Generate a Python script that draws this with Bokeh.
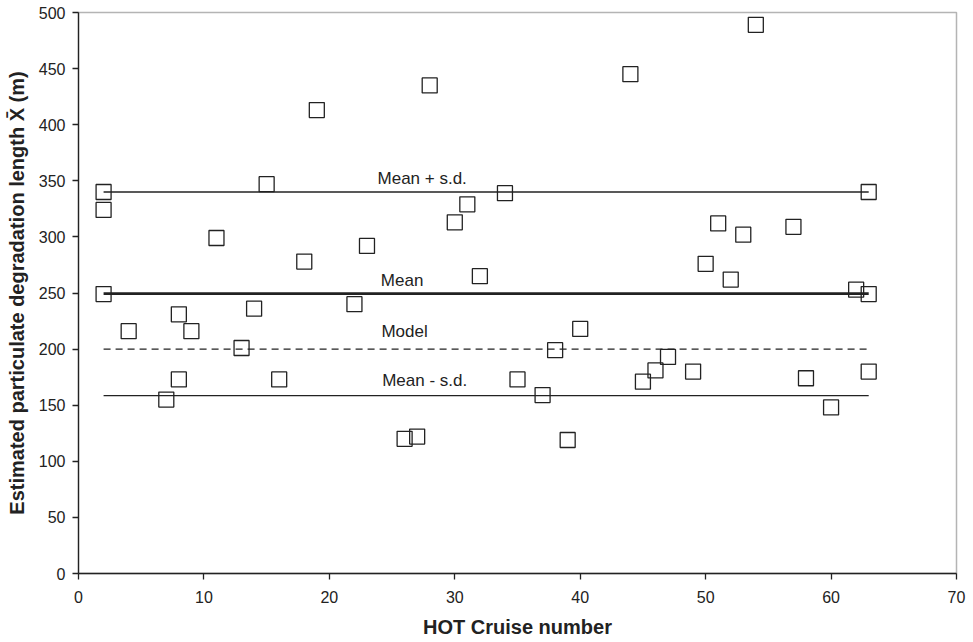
from bokeh.plotting import figure
from bokeh.models import SingleIntervalTicker
from bokeh.core.properties import value
from bokeh.embed import file_html
from bokeh.resources import INLINE

cruise = [2, 2, 2, 4, 7, 8, 8, 9, 11, 13, 14, 15, 16, 18, 19, 22, 23, 26, 27, 28,
          30, 31, 32, 34, 35, 37, 38, 39, 40, 44, 45, 46, 47, 49, 50, 51, 52, 53,
          54, 57, 58, 60, 62, 63, 63, 63]
length_m = [340, 324, 249, 216, 155, 231, 173, 216, 299, 201, 236, 347, 173, 278, 413,
            240, 292, 120, 122, 435, 313, 329, 265, 339, 173, 159, 199, 119, 218, 445,
            171, 181, 193, 180, 276, 312, 262, 302, 489, 309, 174, 148, 253, 340, 249, 180]

line_names = ["Mean + s.d.", "Mean", "Model", "Mean - s.d."]
line_values = [340, 249.5, 200, 158.5]
line_start = 2
line_end = 63
label_x = [27.4, 25.8, 26.0, 27.6]

FONT = "Liberation Sans"

p = figure(width=973, height=642, x_range=(0, 70), y_range=(0, 500),
           output_backend="svg", toolbar_location=None,
           min_border_left=78, min_border_right=17, min_border_top=12, min_border_bottom=69)
p.background_fill_color = "white"
p.border_fill_color = "white"
p.outline_line_color = "#b4b4b4"
p.outline_line_width = 1.5
p.xgrid.visible = False
p.ygrid.visible = False

widths = [1.3, 2.8, 1.3, 1.3]
dashes = ["solid", "solid", "7 5", "solid"]
offsets = [-4, -4, -8, -6]
for name, v, lx, w, d, off in zip(line_names, line_values, label_x, widths, dashes, offsets):
    p.line([line_start, line_end], [v, v], line_color="#222222", line_width=w, line_dash=d)
    p.text(x=[lx], y=[v], text=[name], text_align="center", text_baseline="bottom",
           y_offset=off, text_font=value(FONT), text_font_size="17px", text_color="#222222")

p.scatter(cruise, length_m, marker="square", size=15, fill_color=None,
          line_color="#222222", line_width=1.3)

p.xaxis.ticker = SingleIntervalTicker(interval=10)
p.yaxis.ticker = SingleIntervalTicker(interval=50)
for ax in (p.xaxis, p.yaxis):
    ax.minor_tick_line_color = None
    ax.major_tick_in = 0
    ax.major_tick_out = 6
    ax.axis_line_color = "#222222"
    ax.axis_line_width = 1.3
    ax.major_tick_line_color = "#222222"
    ax.major_tick_line_width = 1.3
    ax.major_label_text_font = FONT
    ax.major_label_text_font_size = "16px"
    ax.major_label_text_color = "#222222"
    ax.axis_label_text_font = FONT
    ax.axis_label_text_font_size = "20px"
    ax.axis_label_text_font_style = "bold"
    ax.axis_label_text_color = "#222222"

p.xaxis.axis_label = "HOT Cruise number"
p.yaxis.axis_label = "Estimated particulate degradation length X\u0304 (m)"
p.xaxis.major_label_standoff = 11
p.xaxis.axis_label_standoff = 10
p.yaxis.major_label_standoff = 7
p.yaxis.axis_label_standoff = 8

open("out.html", "w").write(file_html(p, INLINE))
